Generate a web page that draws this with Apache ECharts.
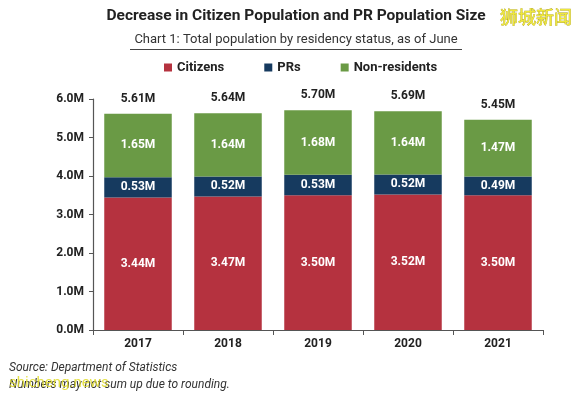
<!DOCTYPE html>
<html><head><meta charset="utf-8">
<script src="https://cdn.jsdelivr.net/npm/echarts@6/dist/echarts.min.js"></script>
<style>html,body{margin:0;padding:0;background:#fff}#c{width:579px;height:397px}</style>
</head><body><div id="c"></div>
<script>
var years = ['2017','2018','2019','2020','2021'];
var citizens = [3.44, 3.47, 3.50, 3.52, 3.50];
var prs = [0.53, 0.52, 0.53, 0.52, 0.49];
var nonResidents = [1.65, 1.64, 1.68, 1.64, 1.47];
var totals = [5.61, 5.64, 5.70, 5.69, 5.45];
var yTicks = [0, 1, 2, 3, 4, 5, 6];

var F = 'Roboto, "Noto Sans", sans-serif';
var chart = echarts.init(document.getElementById('c'), null, {renderer: 'canvas'});
var inLabel = {show: true, position: 'inside', color: '#fff', fontFamily: F, fontWeight: 'bold', fontSize: 12,
  formatter: function(p){ return p.value.toFixed(2) + 'M'; }};
chart.setOption({
  animation: false,
  textStyle: {fontFamily: F},
  title: [
    {text: 'Decrease in Citizen Population and PR Population Size', left: 296, textAlign: 'center', top: 8, padding: 0,
     textStyle: {fontSize: 15.5, fontWeight: 'bold', color: '#222', fontFamily: F}},
    {text: 'Chart 1: Total population by residency status, as of June', left: 296, textAlign: 'center', top: 33, padding: 0,
     textStyle: {fontSize: 13, fontWeight: 'normal', color: '#333', fontFamily: F}},
    {text: '狮城新闻', left: 500, top: 8, padding: 0, textStyle: {fontSize: 18, color: '#efe83a', fontWeight: 'normal', fontFamily: '"Noto Sans CJK SC"', textBorderColor: '#a89a18', textBorderWidth: 0.6}},
    {text: 'Source: Department of Statistics', left: 9, top: 362, padding: 0,
     textStyle: {fontSize: 12, fontStyle: 'italic', fontWeight: 'normal', color: '#333', fontFamily: F}},
    {text: 'Numbers may not sum up due to rounding.', left: 9, top: 379, padding: 0,
     textStyle: {fontSize: 12, fontStyle: 'italic', fontWeight: 'normal', color: '#333', fontFamily: F}},
    {text: 'shicheng.news', left: 9, top: 376, padding: 0,
     textStyle: {fontSize: 15, fontWeight: 'normal', color: 'rgba(225,220,40,0.85)', fontFamily: F}}
  ],
  graphic: [{type: 'line', shape: {x1: 130, y1: 49.5, x2: 462, y2: 49.5}, style: {stroke: '#444', lineWidth: 1}}],
  legend: {top: 56, left: 159, itemWidth: 8, itemHeight: 8, itemGap: 40, icon: 'rect',
    textStyle: {fontSize: 13, fontWeight: 'bold', color: '#222', fontFamily: F},
    data: ['Citizens', 'PRs', 'Non-residents']},
  grid: {left: 93, right: 36, top: 99, bottom: 67},
  xAxis: {type: 'category', data: years, boundaryGap: true,
    axisLine: {lineStyle: {color: '#555', width: 1.2}},
    axisTick: {show: true, length: 5, lineStyle: {color: '#555'}},
    axisLabel: {fontSize: 12, fontWeight: 'bold', color: '#222', margin: 8, fontFamily: F}},
  yAxis: {type: 'value', min: 0, max: 6, interval: 1,
    axisLine: {show: true, lineStyle: {color: '#555', width: 1.2}},
    axisTick: {show: true, length: 4, lineStyle: {color: '#555'}},
    splitLine: {show: false},
    axisLabel: {fontSize: 12, fontWeight: 'bold', color: '#222', margin: 9, fontFamily: F,
      formatter: function(v){ return v.toFixed(1) + 'M'; }}},
  series: [
    {name: 'Citizens', type: 'bar', stack: 'p', data: citizens, barCategoryGap: '25%',
     itemStyle: {color: '#B5323F'}, label: inLabel},
    {name: 'PRs', type: 'bar', stack: 'p', data: prs, itemStyle: {color: '#163A5F'}, label: inLabel},
    {name: 'Non-residents', type: 'bar', stack: 'p', data: nonResidents, itemStyle: {color: '#6A9A45'}, label: inLabel},
    {name: 'Total', type: 'bar', stack: 'p', data: totals.map(function(){return 0;}), itemStyle: {color: 'transparent'},
     label: {show: true, position: 'top', distance: 9, color: '#222', fontFamily: F, fontWeight: 'bold', fontSize: 12,
       formatter: function(p){ return totals[p.dataIndex].toFixed(2) + 'M'; }}}
  ]
});
</script></body></html>
